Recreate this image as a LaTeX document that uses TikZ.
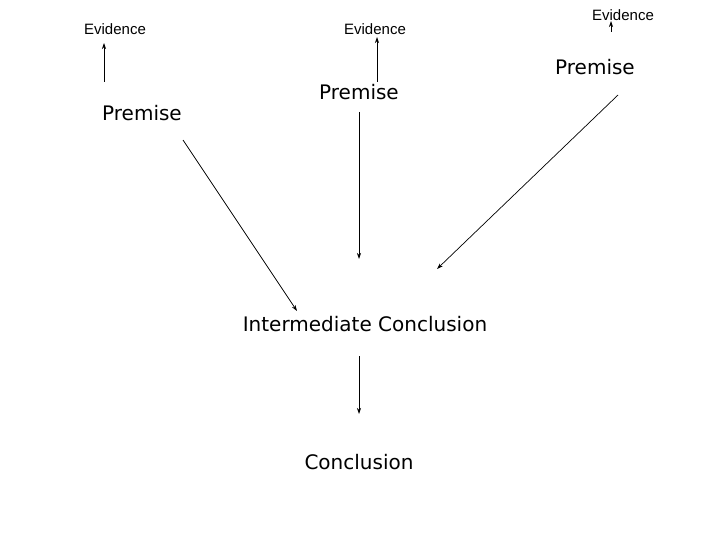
\documentclass[tikz,border=0pt]{standalone}
\usepackage{fontspec}
\usetikzlibrary{arrows.meta}
\setmainfont{Liberation Sans}
\newfontfamily\cfont{DejaVu Sans}
\begin{document}
\begin{tikzpicture}[x=1pt,y=-1pt,
  ev/.style={font=\fontsize{15}{17}\selectfont, inner sep=0pt},
  pr/.style={font=\cfont\fontsize{20}{23}\selectfont, inner sep=0pt},
  arr/.style={-{Stealth[length=6pt,width=4pt]}, line width=0.7pt}]
\useasboundingbox (0,0) rectangle (720,540);
\node[ev] (e1) at (115,29) {Evidence};
\node[ev] (e2) at (375,29) {Evidence};
\node[ev] (e3) at (623,15) {Evidence};
\node[pr] (p1) at (142,113) {Premise};
\node[pr] (p2) at (359,92) {Premise};
\node[pr] (p3) at (595,67) {Premise};
\node[pr] (ic) at (365,324) {Intermediate Conclusion};
\node[pr] (c) at (359,462) {Conclusion};
\coordinate (a1s) at (104,82); \coordinate (a1e) at (104,43);
\coordinate (a2s) at (377,82); \coordinate (a2e) at (377,37);
\coordinate (a3s) at (611,32); \coordinate (a3e) at (611,21);
\coordinate (b1s) at (183,140); \coordinate (b1e) at (297,311);
\coordinate (b2s) at (359,112); \coordinate (b2e) at (359,259);
\coordinate (b3s) at (618,95); \coordinate (b3e) at (437,269);
\coordinate (ds) at (359,356); \coordinate (de) at (359,414);
\draw[arr] (a1s) -- (a1e);
\draw[arr] (a2s) -- (a2e);
\draw[arr] (a3s) -- (a3e);
\draw[arr] (b1s) -- (b1e);
\draw[arr] (b2s) -- (b2e);
\draw[arr] (b3s) -- (b3e);
\draw[arr] (ds) -- (de);
\end{tikzpicture}
\end{document}
